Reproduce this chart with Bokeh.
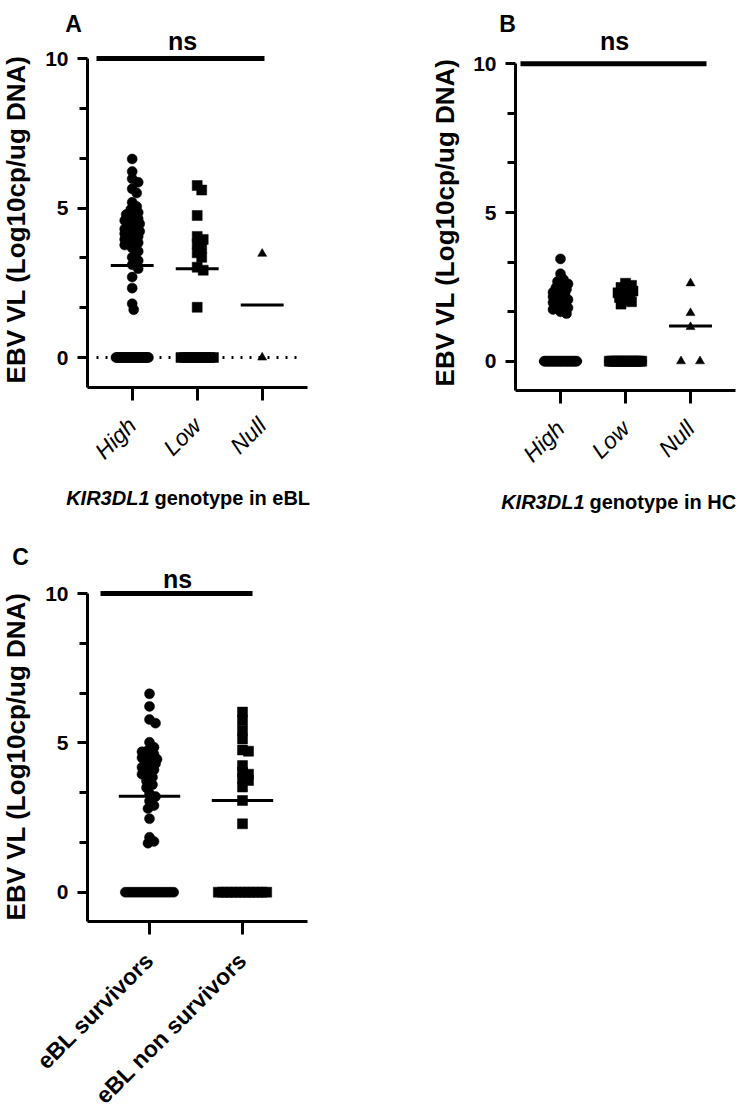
import math
from bokeh.plotting import figure
from bokeh.models import FixedTicker, Label
from bokeh.layouts import column, row
from bokeh.embed import file_html
from bokeh.resources import INLINE

FONT = "Liberation Sans"

# ---------------- data ----------------
# Panel A: KIR3DL1 genotype in eBL
a_categories = ["High", "Low", "Null"]
a_high = [6.64, 6.22, 5.98, 5.86, 5.64, 5.50, 5.19, 5.05, 4.95, 4.85, 4.78, 4.70,
          4.64, 4.58, 4.52, 4.47, 4.42, 4.38, 4.34, 4.30, 4.26, 4.22, 4.18, 4.14,
          4.10, 4.05, 4.00, 3.95, 3.90, 3.84, 3.76, 3.66, 3.55, 3.35, 3.24, 3.10,
          2.97, 2.69, 2.32, 1.80, 1.60,
          0, 0, 0, 0, 0, 0, 0, 0, 0, 0, 0, 0, 0, 0, 0, 0, 0, 0, 0, 0,
          0, 0, 0, 0, 0, 0, 0, 0, 0, 0, 0]
a_low = [5.75, 5.60, 4.75, 4.05, 3.95, 3.80, 3.65, 3.50, 3.35, 3.02, 2.92, 1.68,
         0, 0, 0, 0, 0, 0, 0, 0, 0, 0]
a_null = [3.47, 0]
a_medians = [3.08, 2.97, 1.76]

# Panel B: KIR3DL1 genotype in HC
b_categories = ["High", "Low", "Null"]
b_high = [3.44, 2.94, 2.75, 2.68, 2.60, 2.54, 2.48, 2.42, 2.37, 2.32, 2.27, 2.22,
          2.17, 2.12, 2.07, 2.02, 1.97, 1.92, 1.86, 1.80, 1.74, 1.66, 1.60,
          0, 0, 0, 0, 0, 0, 0, 0, 0, 0, 0, 0, 0, 0, 0, 0, 0, 0, 0, 0,
          0, 0, 0, 0, 0, 0, 0, 0]
b_low = [2.62, 2.55, 2.48, 2.42, 2.36, 2.30, 2.25, 2.20, 2.14, 2.07, 2.00, 1.92,
         0, 0, 0, 0, 0, 0, 0, 0, 0, 0, 0, 0, 0, 0, 0, 0, 0, 0]
b_null = [2.62, 1.62, 1.15, 0, 0]
b_medians = [0.0, 0.0, 1.18]

# Panel C: survivors vs non survivors
c_categories = ["eBL survivors", "eBL non survivors"]
c_survivors = [6.64, 6.22, 5.78, 5.66, 5.02, 4.85, 4.75, 4.70, 4.62, 4.56, 4.50,
               4.45, 4.40, 4.35, 4.30, 4.25, 4.18, 4.10, 4.02, 3.95, 3.85, 3.72,
               3.60, 3.50, 3.30, 3.20, 3.05, 2.90, 2.80, 2.46, 1.84, 1.70, 1.64,
               0, 0, 0, 0, 0, 0, 0, 0, 0, 0, 0, 0, 0, 0, 0, 0, 0, 0]
c_non_survivors = [6.03, 5.75, 5.41, 5.13, 4.76, 4.72, 4.24, 4.02, 3.95, 3.80,
                   3.74, 3.52, 3.07, 2.29,
                   0, 0, 0, 0, 0, 0, 0, 0, 0, 0, 0, 0]
c_medians = [3.21, 3.07]

y_major_ticks = [0, 5, 10]
y_minor_ticks = [1.667, 3.333, 6.667, 8.333]
y_label = "EBV VL (Log10cp/ug DNA)"
sig_text = "ns"
sig_level = 10


# ---------------- layout helpers ----------------
def swarm_offsets(values, ppu, ppc, zero_half_px, single_half_px,
                  min_d=6.0, step=1.5, gap=19.0):
    vals = [float(v) for v in values]
    n = len(vals)
    offs = [0.0] * n
    counts = {}
    for v in vals:
        counts[v] = counts.get(v, 0) + 1
    placed = []
    for v, c in counts.items():
        if c > 1:
            idx = [i for i in range(n) if vals[i] == v]
            st = min(gap, 2 * zero_half_px / (c - 1))
            for k, i in enumerate(idx):
                offs[i] = (k - (c - 1) / 2) * st
                placed.append((offs[i], v * ppu))
    singles = sorted([i for i in range(n) if counts[vals[i]] == 1], key=lambda i: -vals[i])
    cands = [0.0]
    j = 1
    while j * step <= single_half_px + 1e-9:
        cands += [j * step, -j * step]
        j += 1
    for i in singles:
        y = vals[i] * ppu
        best = None
        best_score = -1
        bestc = 0.0
        for cx in cands:
            dmin = min([math.hypot(cx - px, y - py) for px, py in placed], default=1e9)
            if dmin >= min_d:
                best = cx
                break
            if dmin > best_score:
                best_score = dmin
                bestc = cx
        if best is None:
            best = bestc
        offs[i] = best
        placed.append((best, y))
    return [o / ppc for o in offs]


def build_panel(cats, series, markers, msizes, medians, g):
    # g holds the pixel geometry of the panel (page pixels)
    step, ppu = g["step"], g["ppu"]
    fx = lambda px: (px - g["cat0"]) / step
    fy = lambda py: (g["zero_y"] - py) / ppu
    x0, x1 = fx(g["ox"]), fx(g["ox"] + g["w"])
    y0, y1 = fy(g["oy"] + g["h"]), fy(g["oy"])
    p = figure(width=g["w"], height=g["h"], x_range=(x0, x1), y_range=(y0, y1),
               output_backend="svg", toolbar_location=None, min_border=0)
    p.title.visible = False
    p.outline_line_color = None
    p.grid.visible = False
    p.background_fill_color = "white"
    p.border_fill_color = "white"

    ax_x = fx(g["axis_x"])          # where the y axis stands (category units)
    ax_y = fy(g["axis_y"])          # where the x axis lies (value units)
    ax_r = fx(g["axis_right"])

    if g.get("dotted"):
        dx0, dx1 = g["dotted"]
        p.segment(x0=[fx(dx0)], x1=[fx(dx1)], y0=[0], y1=[0], line_color="black",
                  line_width=3, line_dash="2 7")

    half_zero = g["zero_half"] * step
    mx = list(range(len(cats)))
    for i, (vals, mk, ms) in enumerate(zip(series, markers, msizes)):
        offs = swarm_offsets(vals, ppu, step, half_zero, 8.0)
        xs = [i + o for o in offs]
        p.scatter(x=xs, y=vals, marker=mk, size=ms, fill_color="black",
                  line_color="black", line_width=0.5)
    p.segment(x0=[m - 0.33 for m in mx], x1=[m + 0.33 for m in mx],
              y0=medians, y1=medians, line_color="black", line_width=3)

    # significance bar
    bx0, bx1 = g["bar"]
    p.segment(x0=[fx(bx0)], x1=[fx(bx1)], y0=[sig_level], y1=[sig_level],
              line_color="black", line_width=5)

    # axes, fixed where the reference draws them
    xa = p.xaxis[0]
    xa.fixed_location = ax_y
    xa.bounds = (ax_x, ax_r)
    xa.ticker = FixedTicker(ticks=mx)
    xa.major_label_overrides = {m: c for m, c in zip(mx, cats)}
    xa.major_label_orientation = math.pi / 4
    xa.major_label_text_font = FONT
    xa.major_label_text_font_size = g["xt_size"]
    xa.major_label_text_font_style = g["xt_style"]
    xa.major_label_text_color = "black"
    xa.major_label_standoff = g["xt_standoff"]
    xa.axis_line_width = 3
    xa.axis_line_color = "black"
    xa.major_tick_line_width = 3
    xa.major_tick_in = 0
    xa.major_tick_out = 13
    xa.minor_tick_line_color = None

    ya = p.yaxis[0]
    ya.fixed_location = ax_x
    ya.bounds = (ax_y, sig_level)
    ya.ticker = FixedTicker(ticks=y_major_ticks, minor_ticks=y_minor_ticks)
    ya.major_label_text_font = FONT
    ya.major_label_text_font_size = "21px"
    ya.major_label_text_font_style = "bold"
    ya.major_label_text_color = "black"
    ya.major_label_standoff = 9
    ya.axis_line_width = 3
    ya.axis_line_color = "black"
    ya.major_tick_line_width = 3
    ya.major_tick_in = 0
    ya.major_tick_out = 10
    ya.minor_tick_line_width = 3
    ya.minor_tick_line_color = "black"
    ya.minor_tick_in = 0
    ya.minor_tick_out = 8

    def lab(text, px, py, size, style="bold", align="center", baseline="alphabetic", angle=0.0):
        p.add_layout(Label(x=fx(px), y=fy(py), text=text, text_font=FONT,
                           text_font_size=size, text_font_style=style,
                           text_color="black", text_align=align,
                           text_baseline=baseline, angle=angle))

    lab(g["letter"], g["letter_xy"][0], g["letter_xy"][1], "23px")
    lab(sig_text, g["ns_xy"][0], g["ns_xy"][1], "25px")
    lab(y_label, g["yl_xy"][0], g["yl_xy"][1], "26px", baseline="middle", angle=math.pi / 2)
    if g.get("xtitle"):
        it, rest = g["xtitle"]
        it_end, rest_start, ty = g["xtitle_pos"]
        lab(it, it_end, ty, "20px", style="bold italic", align="right")
        lab(rest, rest_start, ty, "20px", style="bold", align="left")
    return p


geo_a = dict(ox=0, oy=0, w=375, h=528, cat0=131.7, step=65.0, zero_y=357.0, ppu=29.9,
             axis_x=87.0, axis_y=387.0, axis_right=307.0, zero_half=0.25,
             bar=(96, 264), dotted=(96, 303),
             xt_size="23px", xt_style="italic", xt_standoff=21,
             letter="A", letter_xy=(73, 23), ns_xy=(182, 40), yl_xy=(15, 219),
             xtitle=("KIR3DL1", "genotype in eBL"), xtitle_pos=(149, 154, 497))
geo_b = dict(ox=375, oy=0, w=370, h=528, cat0=560.0, step=65.0, zero_y=360.7, ppu=29.74,
             axis_x=515.0, axis_y=390.0, axis_right=735.0, zero_half=0.25,
             bar=(520, 706),
             xt_size="23px", xt_style="italic", xt_standoff=21,
             letter="B", letter_xy=(507, 23), ns_xy=(614, 40), yl_xy=(444, 222),
             xtitle=("KIR3DL1", "genotype in HC"), xtitle_pos=(584, 589, 501))
geo_c = dict(ox=0, oy=528, w=340, h=580, cat0=149.0, step=93.0, zero_y=891.7, ppu=29.87,
             axis_x=87.0, axis_y=921.0, axis_right=307.0, zero_half=0.26,
             bar=(100, 252),
             xt_size="23px", xt_style="bold", xt_standoff=22,
             letter="C", letter_xy=(20, 556), ns_xy=(177, 578), yl_xy=(15, 756))

pa = build_panel(a_categories, [a_high, a_low, a_null], ["circle", "square", "triangle"],
                 [10, 10, 9], a_medians, geo_a)
pb = build_panel(b_categories, [b_high, b_low, b_null], ["circle", "square", "triangle"],
                 [10, 10, 9], b_medians, geo_b)
pc = build_panel(c_categories, [c_survivors, c_non_survivors], ["circle", "square"],
                 [10, 10], c_medians, geo_c)

layout = column(row(pa, pb), pc)
open("out.html", "w").write(file_html(layout, INLINE))
